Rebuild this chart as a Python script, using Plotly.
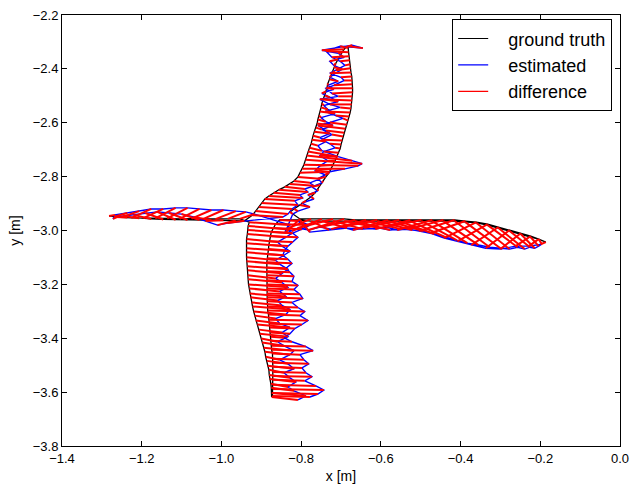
import plotly.graph_objects as go

# ---------------- ground truth trajectory (m) ----------------
gt_x = [
    # ascending outer branch, lower part
    -0.874, -0.874, -0.875, -0.876, -0.879, -0.880, -0.881, -0.884, -0.886, -0.889,
    -0.891, -0.894, -0.898, -0.900, -0.904, -0.906, -0.910, -0.914, -0.917, -0.919,
    -0.922, -0.924, -0.927, -0.929, -0.930, -0.932, -0.933, -0.934, -0.934, -0.935,
    -0.937, -0.937, -0.937, -0.937, -0.937, -0.937, -0.935, -0.934, -0.933, -0.930,
    # left arm out
    -0.954, -0.984, -1.015, -1.045, -1.075, -1.105, -1.136, -1.166, -1.196, -1.226,
    -1.251, -1.269, -1.282,
    # left arm back
    -1.261, -1.236, -1.206, -1.176, -1.146, -1.115, -1.085, -1.055, -1.025, -0.995,
    -0.964, -0.942,
    # ascending outer branch, upper part
    -0.922, -0.914, -0.906, -0.899, -0.891, -0.881, -0.869, -0.856, -0.841, -0.828,
    -0.818, -0.808, -0.803, -0.797, -0.793, -0.789, -0.786, -0.783, -0.779, -0.775,
    -0.773, -0.770, -0.767, -0.763, -0.760, -0.758, -0.755, -0.753, -0.750, -0.748,
    -0.744, -0.740, -0.738, -0.735, -0.733, -0.729, -0.725, -0.721, -0.718, -0.713,
    -0.707, -0.702, -0.697, -0.692, -0.687, -0.680,
    # descending inner branch, upper part
    -0.682, -0.681, -0.680, -0.678, -0.677, -0.676, -0.675, -0.673, -0.672, -0.672,
    -0.671, -0.671, -0.672, -0.672, -0.673, -0.675, -0.677, -0.680, -0.682, -0.685,
    -0.689, -0.692, -0.695, -0.697, -0.700, -0.702, -0.706, -0.710, -0.715, -0.720,
    -0.725, -0.730, -0.738, -0.745, -0.752, -0.758, -0.765, -0.775, -0.788, -0.803,
    -0.818, -0.828,
    # right arm out
    -0.803, -0.775, -0.748, -0.720, -0.692, -0.665, -0.637, -0.609, -0.582, -0.554,
    -0.526, -0.498, -0.471, -0.443, -0.415, -0.388, -0.360, -0.332, -0.305, -0.277,
    -0.249, -0.224, -0.204, -0.186,
    # right arm back
    -0.204, -0.224, -0.249, -0.277, -0.305, -0.332, -0.360, -0.388, -0.415, -0.443,
    -0.471, -0.498, -0.526, -0.554, -0.582, -0.609, -0.637, -0.665, -0.692, -0.720,
    -0.748, -0.775, -0.803,
    # descending inner branch, lower part
    -0.854, -0.864, -0.870, -0.875, -0.877, -0.880, -0.881, -0.882, -0.884, -0.885,
    -0.886, -0.886, -0.886, -0.886, -0.886, -0.886, -0.886, -0.886, -0.885, -0.885,
    -0.884, -0.884, -0.882, -0.881, -0.880, -0.879, -0.877, -0.876, -0.875, -0.874,
    -0.874, -0.872, -0.871, -0.871, -0.871, -0.871, -0.871, -0.871, -0.871, -0.871,
    -0.871, -0.872,
]
gt_y = [
    -3.618, -3.603, -3.584, -3.569, -3.551, -3.536, -3.517, -3.502, -3.484, -3.469,
    -3.450, -3.435, -3.416, -3.401, -3.383, -3.368, -3.349, -3.334, -3.316, -3.301,
    -3.282, -3.267, -3.248, -3.234, -3.215, -3.200, -3.181, -3.166, -3.148, -3.133,
    -3.114, -3.099, -3.081, -3.066, -3.047, -3.032, -3.013, -2.998, -2.983, -2.969,
    -2.957, -2.957, -2.958, -2.957, -2.956, -2.957, -2.955, -2.955, -2.954, -2.953,
    -2.951, -2.949, -2.946,
    -2.949, -2.952, -2.955, -2.957, -2.959, -2.960, -2.961, -2.961, -2.962, -2.962,
    -2.963, -2.964,
    -2.943, -2.928, -2.913, -2.898, -2.883, -2.872, -2.860, -2.849, -2.838, -2.827,
    -2.816, -2.801, -2.786, -2.771, -2.756, -2.737, -2.722, -2.707, -2.693, -2.678,
    -2.663, -2.648, -2.633, -2.618, -2.603, -2.588, -2.573, -2.558, -2.543, -2.528,
    -2.513, -2.499, -2.484, -2.469, -2.454, -2.439, -2.424, -2.409, -2.394, -2.379,
    -2.364, -2.349, -2.338, -2.327, -2.319, -2.316,
    -2.323, -2.338, -2.353, -2.368, -2.383, -2.398, -2.413, -2.428, -2.443, -2.457,
    -2.472, -2.487, -2.502, -2.517, -2.532, -2.547, -2.562, -2.577, -2.592, -2.607,
    -2.622, -2.637, -2.651, -2.666, -2.681, -2.696, -2.711, -2.726, -2.741, -2.756,
    -2.771, -2.786, -2.801, -2.816, -2.831, -2.846, -2.860, -2.875, -2.890, -2.905,
    -2.920, -2.931,
    -2.957, -2.957, -2.957, -2.957, -2.957, -2.961, -2.961, -2.961, -2.961, -2.961,
    -2.961, -2.961, -2.961, -2.961, -2.961, -2.965, -2.969, -2.976, -2.987, -2.998,
    -3.010, -3.021, -3.032, -3.043,
    -3.032, -3.025, -3.013, -3.002, -2.991, -2.980, -2.972, -2.969, -2.965, -2.965,
    -2.965, -2.965, -2.965, -2.965, -2.965, -2.965, -2.965, -2.965, -2.965, -2.965,
    -2.965, -2.965, -2.961,
    -2.961, -2.976, -2.991, -3.006, -3.021, -3.040, -3.054, -3.069, -3.088, -3.103,
    -3.118, -3.137, -3.151, -3.166, -3.185, -3.200, -3.215, -3.234, -3.248, -3.263,
    -3.282, -3.297, -3.312, -3.331, -3.346, -3.360, -3.379, -3.394, -3.409, -3.428,
    -3.443, -3.457, -3.476, -3.491, -3.506, -3.525, -3.540, -3.554, -3.573, -3.588,
    -3.603, -3.614,
]

# ---------------- estimated trajectory (same samples) ----------------
est_x = [
    -0.808, -0.788, -0.818, -0.833, -0.813, -0.828, -0.843, -0.818, -0.833, -0.854,
    -0.828, -0.818, -0.843, -0.859, -0.833, -0.848, -0.828, -0.854, -0.864, -0.838,
    -0.828, -0.848, -0.859, -0.838, -0.854, -0.833, -0.848, -0.864, -0.848, -0.833,
    -0.854, -0.864, -0.843, -0.828, -0.848, -0.859, -0.838, -0.823, -0.838, -0.828,
    -0.917, -0.939, -0.964, -0.995, -1.025, -1.055, -1.085, -1.115, -1.146, -1.176,
    -1.206, -1.236, -1.267,
    -1.272, -1.267, -1.246, -1.221, -1.191, -1.161, -1.131, -1.100, -1.070, -1.040,
    -1.010, -0.984,
    -0.846, -0.833, -0.823, -0.808, -0.816, -0.796, -0.803, -0.783, -0.791, -0.768,
    -0.778, -0.753, -0.728, -0.690, -0.657, -0.647, -0.672, -0.707, -0.748, -0.758,
    -0.738, -0.753, -0.728, -0.748, -0.720, -0.738, -0.750, -0.715, -0.733, -0.743,
    -0.707, -0.728, -0.748, -0.718, -0.733, -0.707, -0.728, -0.713, -0.697, -0.718,
    -0.728, -0.692, -0.707, -0.748, -0.672, -0.645,
    -0.702, -0.738, -0.723, -0.702, -0.690, -0.713, -0.728, -0.700, -0.692, -0.718,
    -0.738, -0.723, -0.707, -0.753, -0.728, -0.702, -0.740, -0.713, -0.695, -0.728,
    -0.758, -0.738, -0.723, -0.748, -0.728, -0.715, -0.743, -0.753, -0.733, -0.753,
    -0.765, -0.740, -0.758, -0.748, -0.773, -0.758, -0.783, -0.768, -0.798, -0.778,
    -0.808, -0.821,
    -0.841, -0.838, -0.823, -0.808, -0.781, -0.753, -0.725, -0.697, -0.670, -0.642,
    -0.614, -0.587, -0.559, -0.531, -0.504, -0.476, -0.441, -0.408, -0.373, -0.337,
    -0.300, -0.262, -0.229, -0.199,
    -0.196, -0.204, -0.214, -0.226, -0.239, -0.257, -0.277, -0.300, -0.327, -0.355,
    -0.383, -0.410, -0.438, -0.466, -0.493, -0.521, -0.549, -0.577, -0.604, -0.645,
    -0.685, -0.730, -0.778,
    -0.808, -0.778, -0.798, -0.821, -0.808, -0.821, -0.833, -0.841, -0.846, -0.833,
    -0.823, -0.838, -0.828, -0.818, -0.823, -0.808, -0.818, -0.803, -0.796, -0.823,
    -0.808, -0.791, -0.803, -0.783, -0.798, -0.816, -0.828, -0.843, -0.823, -0.788,
    -0.770, -0.803, -0.793, -0.781, -0.798, -0.788, -0.773, -0.791, -0.763, -0.743,
    -0.758, -0.778,
]
est_y = [
    -3.629, -3.614, -3.595, -3.581, -3.562, -3.547, -3.528, -3.513, -3.495, -3.480,
    -3.461, -3.446, -3.428, -3.413, -3.394, -3.379, -3.360, -3.345, -3.327, -3.312,
    -3.293, -3.278, -3.260, -3.245, -3.226, -3.211, -3.193, -3.178, -3.159, -3.144,
    -3.125, -3.110, -3.092, -3.077, -3.058, -3.043, -3.025, -3.010, -2.995, -2.980,
    -2.939, -2.931, -2.928, -2.924, -2.924, -2.920, -2.916, -2.916, -2.920, -2.920,
    -2.928, -2.935, -2.942,
    -2.957, -2.950, -2.946, -2.942, -2.935, -2.931, -2.935, -2.939, -2.950, -2.965,
    -2.980, -2.972,
    -2.950, -2.939, -2.920, -2.905, -2.890, -2.879, -2.868, -2.857, -2.846, -2.834,
    -2.823, -2.808, -2.782, -2.771, -2.760, -2.752, -2.741, -2.726, -2.704, -2.685,
    -2.670, -2.655, -2.640, -2.625, -2.610, -2.596, -2.581, -2.566, -2.551, -2.536,
    -2.521, -2.506, -2.491, -2.476, -2.461, -2.446, -2.431, -2.416, -2.401, -2.387,
    -2.372, -2.357, -2.342, -2.331, -2.312, -2.323,
    -2.316, -2.334, -2.357, -2.372, -2.387, -2.405, -2.416, -2.431, -2.443, -2.461,
    -2.472, -2.491, -2.502, -2.513, -2.532, -2.543, -2.558, -2.573, -2.584, -2.599,
    -2.610, -2.629, -2.644, -2.663, -2.678, -2.693, -2.707, -2.722, -2.741, -2.760,
    -2.778, -2.793, -2.808, -2.823, -2.838, -2.853, -2.868, -2.883, -2.898, -2.913,
    -2.928, -2.939,
    -3.010, -2.995, -3.002, -2.991, -2.998, -2.987, -2.995, -2.987, -2.998, -2.991,
    -2.995, -2.987, -2.998, -2.995, -3.002, -3.010, -3.028, -3.040, -3.054, -3.066,
    -3.069, -3.058, -3.058, -3.051,
    -3.051, -3.058, -3.066, -3.062, -3.069, -3.062, -3.069, -3.066, -3.062, -3.054,
    -3.047, -3.036, -3.025, -3.013, -3.002, -2.998, -2.995, -2.998, -2.991, -2.995,
    -2.991, -2.998, -3.006,
    -2.965, -2.980, -2.995, -3.010, -3.025, -3.043, -3.058, -3.073, -3.092, -3.107,
    -3.122, -3.140, -3.155, -3.170, -3.189, -3.204, -3.219, -3.237, -3.252, -3.267,
    -3.286, -3.301, -3.316, -3.334, -3.349, -3.364, -3.383, -3.398, -3.413, -3.431,
    -3.446, -3.461, -3.480, -3.495, -3.510, -3.528, -3.543, -3.558, -3.577, -3.592,
    -3.607, -3.618,
]

x_ticks = [-1.4, -1.2, -1.0, -0.8, -0.6, -0.4, -0.2, 0.0]
y_ticks = [-3.8, -3.6, -3.4, -3.2, -3.0, -2.8, -2.6, -2.4, -2.2]
legend_names = ["ground truth", "estimated", "difference"]
series_colors = ["black", "blue", "red"]

# difference segments: each ground-truth sample joined to its estimate
diff_x, diff_y = [], []
for gx, gy, ex, ey in zip(gt_x, gt_y, est_x, est_y):
    diff_x += [gx, ex, None]
    diff_y += [gy, ey, None]

FONT = "Liberation Sans, Arial, sans-serif"
PAD = "\u00a0\u00a0\u00a0"

fig = go.Figure()
fig.add_trace(go.Scatter(x=gt_x, y=gt_y, mode="lines", showlegend=False,
                         line=dict(color=series_colors[0], width=1.3)))
fig.add_trace(go.Scatter(x=est_x, y=est_y, mode="lines", showlegend=False,
                         line=dict(color=series_colors[1], width=1.4)))
fig.add_trace(go.Scatter(x=diff_x, y=diff_y, mode="lines", showlegend=False,
                         line=dict(color=series_colors[2], width=2)))
# legend entries with thin sample lines
for name, col in zip(legend_names, series_colors):
    fig.add_trace(go.Scatter(x=[None], y=[None], mode="lines", name=PAD + name,
                             line=dict(color=col, width=1.2)))

axis_common = dict(
    showgrid=False, zeroline=False, showline=True, linecolor="black", linewidth=1,
    mirror="allticks", ticks="inside", ticklen=5, tickcolor="black",
    tickfont=dict(family=FONT, size=13, color="black"), automargin=False,
)
fig.update_xaxes(range=[-1.4, 0.0], tickvals=x_ticks, tickformat=".1f",
                 title=dict(text="x [m]", font=dict(family=FONT, size=14, color="black"),
                            standoff=6),
                 **axis_common)
fig.update_yaxes(range=[-3.8, -2.2], tickvals=y_ticks, tickformat=".1f",
                 title=dict(text="y [m]", font=dict(family=FONT, size=14, color="black"),
                            standoff=8),
                 **axis_common)

fig.update_layout(
    width=634, height=491,
    margin=dict(l=62, r=14, t=15, b=45),
    paper_bgcolor="white", plot_bgcolor="white",
    legend=dict(x=0.986, y=0.99, xanchor="right", yanchor="top",
                bordercolor="black", borderwidth=1, bgcolor="white",
                font=dict(family=FONT, size=18, color="black"),
                itemwidth=30, tracegroupgap=0),
    showlegend=True,
)

fig.write_html("out.html", config={"displayModeBar": False},
               post_script="document.body.style.margin='0px';")
